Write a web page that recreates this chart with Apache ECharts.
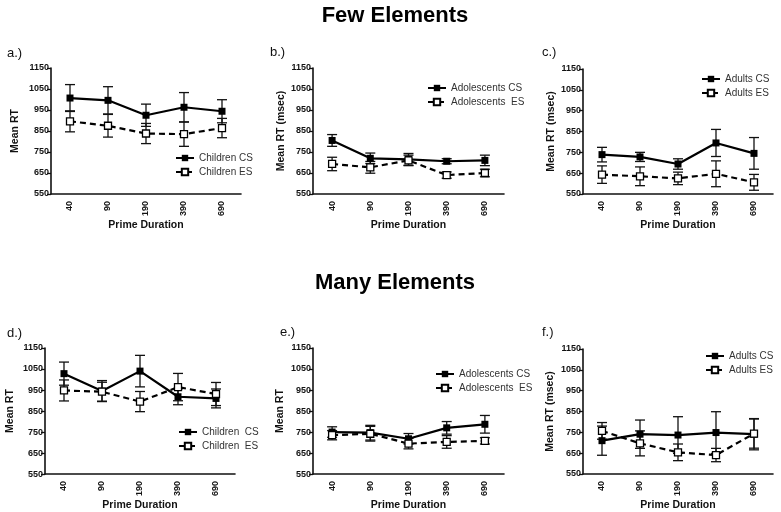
<!DOCTYPE html>
<html lang="en">
<head>
    <meta charset="UTF-8">
    <title>Mean RT by prime duration</title>
    <script src="https://cdn.jsdelivr.net/npm/echarts@6/dist/echarts.min.js"></script>
    <style>
        html, body { margin: 0; padding: 0; background: #fff; }
    </style>
</head>
<body>
<div id="main" style="width: 781px;height:512px;"></div>
<script type="text/javascript">
    // x categories (prime duration, ms) and y ticks
    var durations = ['40', '90', '190', '390', '690'];
    var rtTicks = [550, 650, 750, 850, 950, 1050, 1150];

    // Few elements
    var aCS = [1007, 996, 925, 963, 944];
    var aCSerr = [64, 65, 53, 70, 55];
    var aES = [896, 875, 838, 835, 864];
    var aESerr = [50, 54, 48, 58, 46];

    var bCS = [805, 720, 715, 706, 710];
    var bCSerr = [28, 25, 28, 12, 25];
    var bES = [693, 677, 710, 640, 650];
    var bESerr = [32, 28, 25, 15, 18];

    var cCS = [739, 728, 694, 795, 745];
    var cCSerr = [35, 22, 25, 65, 76];
    var cES = [643, 635, 625, 647, 606];
    var cESerr = [42, 45, 30, 62, 38];

    // Many elements
    var dCS = [1028, 945, 1040, 918, 910];
    var dCSerr = [55, 50, 75, 38, 45];
    var dES = [948, 942, 895, 964, 931];
    var dESerr = [50, 45, 48, 65, 55];

    var eCS = [750, 747, 718, 770, 787];
    var eCSerr = [25, 35, 25, 30, 42];
    var eES = [735, 742, 695, 703, 708];
    var eESerr = [22, 35, 25, 30, 15];

    var fCS = [710, 741, 737, 749, 741];
    var fCSerr = [70, 68, 88, 100, 75];
    var fES = [757, 697, 654, 641, 744];
    var fESerr = [40, 60, 40, 32, 70];

    var font = "'Liberation Sans', Arial, sans-serif";

    var panels = [
        {label: 'a.)', yName: 'Mean RT', names: ['Children CS', 'Children ES'], cs: aCS, csErr: aCSerr, es: aES, esErr: aESerr,
            grid: {left: 51, top: 68, width: 190, height: 126}, nameGap: 30, legend: {left: 175, top: 153}, lx: 7, ly: 53},
        {label: 'b.)', yName: 'Mean RT (msec)', names: ['Adolescents CS', 'Adolescents  ES'], cs: bCS, csErr: bCSerr, es: bES, esErr: bESerr,
            grid: {left: 313, top: 68, width: 191, height: 126}, nameGap: 25, legend: {left: 427, top: 83}, lx: 270, ly: 52},
        {label: 'c.)', yName: 'Mean RT (msec)', names: ['Adults CS', 'Adults ES'], cs: cCS, csErr: cCSerr, es: cES, esErr: cESerr,
            grid: {left: 583, top: 69, width: 190, height: 125}, nameGap: 24, legend: {left: 701, top: 74}, lx: 542, ly: 52},
        {label: 'd.)', yName: 'Mean RT', names: ['Children  CS', 'Children  ES'], cs: dCS, csErr: dCSerr, es: dES, esErr: dESerr,
            grid: {left: 45, top: 348, width: 190, height: 127}, nameGap: 29, legend: {left: 178, top: 427}, lx: 7, ly: 333},
        {label: 'e.)', yName: 'Mean RT', names: ['Adolescents CS', 'Adolescents  ES'], cs: eCS, csErr: eCSerr, es: eES, esErr: eESerr,
            grid: {left: 313, top: 348, width: 191, height: 127}, nameGap: 27, legend: {left: 435, top: 369}, lx: 280, ly: 332},
        {label: 'f.)', yName: 'Mean RT (msec)', names: ['Adults CS', 'Adults ES'], cs: fCS, csErr: fCSerr, es: fES, esErr: fESerr,
            grid: {left: 583, top: 349, width: 190, height: 125}, nameGap: 27, legend: {left: 705, top: 351}, lx: 542, ly: 332}
    ];

    function errData(mean, err) {
        return mean.map(function (m, i) {
            return [i, m - err[i], m + err[i]];
        });
    }

    function renderErr(params, api) {
        var x = api.value(0);
        var lo = api.coord([x, api.value(1)]);
        var hi = api.coord([x, api.value(2)]);
        var w = 5;
        var st = {stroke: '#111', lineWidth: 1.3};
        return {
            type: 'group',
            children: [
                {type: 'line', shape: {x1: lo[0], y1: lo[1], x2: hi[0], y2: hi[1]}, style: st},
                {type: 'line', shape: {x1: lo[0] - w, y1: lo[1], x2: lo[0] + w, y2: lo[1]}, style: st},
                {type: 'line', shape: {x1: hi[0] - w, y1: hi[1], x2: hi[0] + w, y2: hi[1]}, style: st}
            ]
        };
    }

    var grids = [], xAxes = [], yAxes = [], legends = [], series = [];
    var graphics = [
        {type: 'text', x: 395, y: 16, style: {text: 'Few Elements', font: 'bold 22px ' + font, fill: '#000', align: 'center', verticalAlign: 'middle'}},
        {type: 'text', x: 395, y: 283, style: {text: 'Many Elements', font: 'bold 22px ' + font, fill: '#000', align: 'center', verticalAlign: 'middle'}}
    ];

    panels.forEach(function (p, k) {
        grids.push(p.grid);
        xAxes.push({
            type: 'category',
            gridIndex: k,
            data: durations,
            boundaryGap: true,
            name: 'Prime Duration',
            nameLocation: 'middle',
            nameGap: 23,
            nameTextStyle: {fontFamily: font, fontSize: 10.5, fontWeight: 'bold', color: '#111'},
            axisLine: {lineStyle: {color: '#111', width: 1.6}},
            axisTick: {alignWithLabel: true, length: 5, lineStyle: {color: '#111', width: 1.3}},
            axisLabel: {rotate: 90, margin: 7, fontFamily: font, fontSize: 9, fontWeight: 'bold', color: '#111'},
            splitLine: {show: false}
        });
        yAxes.push({
            type: 'value',
            gridIndex: k,
            min: 550,
            max: 1150,
            name: p.yName,
            nameLocation: 'middle',
            nameGap: p.nameGap,
            nameTextStyle: {fontFamily: font, fontSize: 10.5, fontWeight: 'bold', color: '#111'},
            axisLine: {show: true, lineStyle: {color: '#111', width: 1.6}},
            axisTick: {show: true, length: 4, customValues: rtTicks, lineStyle: {color: '#111', width: 1.3}},
            axisLabel: {
                margin: 2, customValues: rtTicks, fontFamily: font, fontSize: 9, fontWeight: 'bold', color: '#111',
                formatter: function (v) { return String(v); }
            },
            splitLine: {show: false}
        });
        legends.push({
            orient: 'vertical',
            left: p.legend.left,
            top: p.legend.top,
            itemWidth: 18,
            itemHeight: 8,
            itemGap: 4,
            padding: 0,
            data: p.names,
            textStyle: {fontFamily: font, fontSize: 10, color: '#333'},
            selectedMode: false
        });
        series.push({
            type: 'custom', xAxisIndex: k, yAxisIndex: k, z: 1,
            renderItem: renderErr, data: errData(p.cs, p.csErr), encode: {x: 0, y: [1, 2]}, silent: true
        });
        series.push({
            type: 'custom', xAxisIndex: k, yAxisIndex: k, z: 1,
            renderItem: renderErr, data: errData(p.es, p.esErr), encode: {x: 0, y: [1, 2]}, silent: true
        });
        series.push({
            name: p.names[0], type: 'line', xAxisIndex: k, yAxisIndex: k, z: 3,
            data: p.cs,
            symbol: 'rect', symbolSize: 7,
            itemStyle: {color: '#000'},
            lineStyle: {color: '#000', width: 2.2}
        });
        series.push({
            name: p.names[1], type: 'line', xAxisIndex: k, yAxisIndex: k, z: 3,
            data: p.es,
            symbol: 'rect', symbolSize: 7,
            itemStyle: {color: '#fff', borderColor: '#000', borderWidth: 1.3},
            lineStyle: {color: '#000', width: 2.2, type: [6, 4]}
        });
        graphics.push({type: 'text', x: p.lx, y: p.ly, style: {text: p.label, font: '13px ' + font, fill: '#111', verticalAlign: 'middle'}});
    });

    var myChart = echarts.init(document.getElementById('main'));
    myChart.setOption({
        animation: false,
        backgroundColor: '#fff',
        grid: grids,
        xAxis: xAxes,
        yAxis: yAxes,
        legend: legends,
        series: series,
        graphic: graphics
    });
</script>
</body>
</html>
